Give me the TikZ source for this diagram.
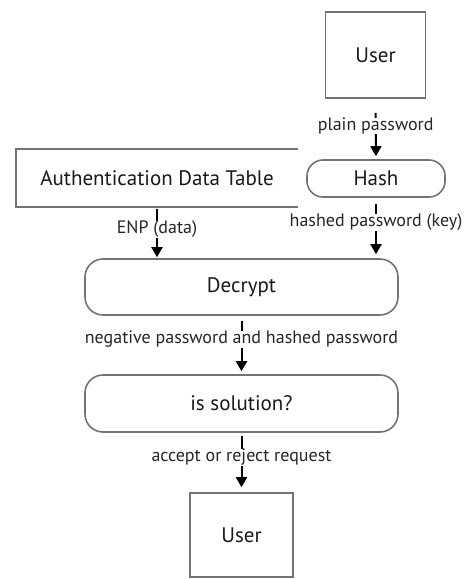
\documentclass[tikz,border=0pt]{standalone}
\usepackage{fontspec}
\setmainfont{PT Sans}
\usetikzlibrary{arrows.meta}
\definecolor{bordgray}{rgb}{0.45,0.45,0.45}
\tikzset{
	box/.style={draw=bordgray,line width=1.6pt,inner sep=0pt,font=\fontsize{21}{24}\selectfont,text=black!90},
	rbox/.style={box,rounded corners=18pt},
	flow/.style={-{Triangle[length=10pt,width=11pt]},line width=2pt,color=black},
	lbl/.style={fill=white,inner xsep=1pt,inner ysep=0pt,font=\fontsize{18}{20}\selectfont,text=black!85}
}

\begin{document}
\begin{tikzpicture}[x=1pt,y=-1pt]
		\useasboundingbox (0,0) rectangle (468,579);
		% boxes
		\node[box,minimum width=100pt,minimum height=86pt] (user1) at (375.5,55) {User};
		\node[box,rounded corners=16pt,minimum width=138pt,minimum height=37pt] (hash) at (376,178.5) {Hash};
		\node[box,draw=none,minimum width=280pt,minimum height=56pt] (adt) at (157,178) {Authentication Data Table};
		\draw[color=bordgray,line width=1.6pt] (adt.north east) -- (adt.north west) -- (adt.south west) -- (adt.south east);
		\node[rbox,minimum width=313pt,minimum height=56pt] (decrypt) at (241.5,287) {Decrypt};
		\node[rbox,minimum width=313pt,minimum height=57pt] (issol) at (241.5,403.5) {is solution?};
		\node[box,minimum width=103pt,minimum height=84pt] (user2) at (241.5,535) {User};
		% connectors
		\draw[flow] ([yshift=-14pt]user1.south) -- node[lbl,pos=0.3] {plain password} ([yshift=3pt]hash.north);
		\draw[flow] ([yshift=-2pt]adt.south) -- node[lbl,pos=0.42] {ENP (data)} ([yshift=1pt]adt.south |- decrypt.north);
		\draw[flow] ([yshift=-6pt]hash.south) -- node[lbl,pos=0.37] {hashed password (key)} ([yshift=4pt]hash.south |- decrypt.north);
		\draw[flow] ([yshift=-5pt]decrypt.south) -- node[lbl,pos=0.37] {negative password and hashed password} ([yshift=3pt]issol.north);
		\draw[flow] ([yshift=-3pt]issol.south) -- node[lbl,pos=0.42] {accept or reject request} ([yshift=5pt]user2.north);
		\end{tikzpicture}
\end{document}
